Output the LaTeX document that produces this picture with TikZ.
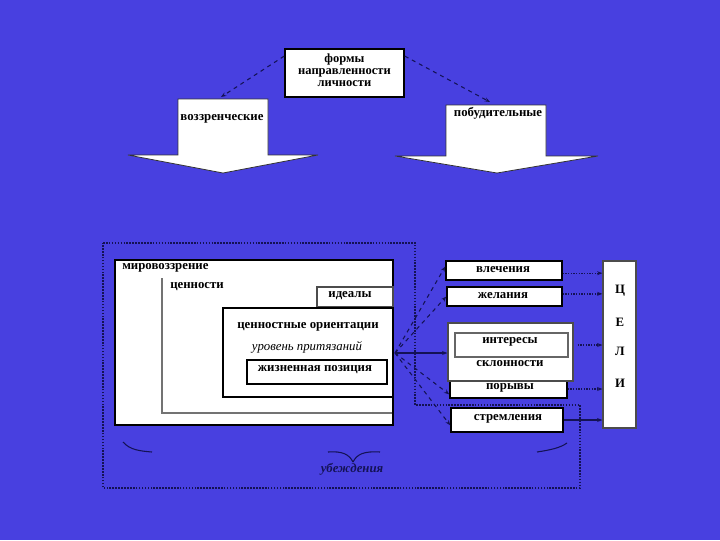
\documentclass[tikz,border=0pt]{standalone}
\usepackage{fontspec}
\setmainfont{Liberation Serif}
\usetikzlibrary{arrows.meta,fit}
\definecolor{bgblue}{RGB}{72,64,224}
\definecolor{navy}{RGB}{20,18,85}
\begin{document}
\begin{tikzpicture}[x=0.75pt,y=-0.75pt,
  font=\bfseries\fontsize{9.6}{8}\selectfont,
  box/.style={draw=black, fill=white, line width=0.9pt, inner sep=0pt},
  lbl/.style={inner sep=0pt, text=black},
  con/.style={draw=navy, dashed, line width=0.8pt, -{Stealth[length=4pt,width=3pt]}},
  dcon/.style={draw=navy, densely dotted, line width=1pt, -{Stealth[length=4pt,width=3pt]}},
  brace/.style={draw=navy, line width=0.8pt},
  bigarrow/.style={fill=white, draw=black!80, line width=0.6pt}]
\useasboundingbox (0,0) rectangle (720,540);
\fill[bgblue] (0,0) rectangle (720,540);

% top box
\node[box, line width=1.3pt, fit={(285,49)(404,97)}] (forms) {};
\node[lbl, align=center, font=\bfseries\fontsize{9.4}{9.2}\selectfont] (formstxt) at (344.5,70) {формы\\направленности\\личности};

% big arrows
\draw[bigarrow] (178,99) -- (268,99) -- (268,155) -- (318,155) -- (223,173) -- (128,155) -- (178,155) -- cycle;
\node[lbl] (contempl) at (222,119) {воззренческие};
\draw[bigarrow] (446,105) -- (546,105) -- (546,156) -- (598,156) -- (497,173) -- (395,156) -- (446,156) -- cycle;
\node[lbl] (motive) at (498,113) {побудительные};
\coordinate (ltop) at (221,97);
\coordinate (rtop) at (490,102);
\draw[con] ([yshift=-6pt]forms.north west) -- (ltop);
\draw[con] ([yshift=-6pt]forms.north east) -- (rtop);

% dotted outline
\draw[navy, densely dotted, line width=1.2pt] (103,243) -- (415,243) -- (415,405) -- (580,405) -- (580,488) -- (103,488) -- cycle;

% worldview block
\node[box, line width=1pt, fit={(115,260)(393,425)}] (world) {};
\node[lbl, anchor=west] (worldtxt) at (122,268) {мировоззрение};
\draw[black!55, line width=0.8pt] (162,278) -- (162,413) -- (392,413);
\node[lbl, anchor=west] (valtxt) at (170,287) {ценности};
\node[box, draw=black!70, line width=0.8pt, fit={(317,287)(393,307)}] (ideals) {};
\node[lbl] (idealstxt) at (350,296) {идеалы};
\node[box, line width=1.6pt, fit={(223,308)(393,397)}] (orient) {};
\node[lbl] (orienttxt) at (308,327) {ценностные ориентации};
\node[lbl, font=\itshape\fontsize{9.6}{8}\selectfont] (claims) at (307,347) {уровень притязаний};
\node[box, line width=1pt, fit={(247,360)(387,384)}] (life) {};
\node[lbl] (lifetxt) at (315,370) {жизненная позиция};

% right boxes
\node[box, line width=1.1pt, fit={(446,261)(562,280)}] (vlech) {};
\node[lbl] (vlechtxt) at (503,270) {влечения};
\node[box, line width=1.1pt, fit={(447,287)(562,306)}] (zhel) {};
\node[lbl] (zheltxt) at (503,296) {желания};
\node[box, line width=1.1pt, fit={(450,380)(567,398)}] (pory) {};
\node[lbl] (porytxt) at (510,388) {порывы};
\node[box, draw=black!70, line width=0.9pt, fit={(448,323)(573,381)}] (incl) {};
\node[box, draw=black!60, line width=0.8pt, fit={(455,333)(568,357)}] (inter) {};
\node[lbl] (intertxt) at (510,342) {интересы};
\node[lbl] (incltxt) at (510,364) {склонности};
\node[box, line width=1.1pt, fit={(451,408)(563,432)}] (strem) {};
\node[lbl] (stremtxt) at (508,419) {стремления};

% goals
\node[box, draw=black!70, line width=0.9pt, fit={(603,261)(636,428)}] (celi) {};
\node[lbl] (c1) at (620,291) {Ц};
\node[lbl] (c2) at (620,322) {Е};
\node[lbl] (c3) at (620,351) {Л};
\node[lbl] (c4) at (620,383) {И};

% arrows to goals
\draw[dcon] ([yshift=-2pt]vlech.east) -- ([yshift=-2pt]vlech.east -| celi.west);
\draw[dcon] ([yshift=2pt]zhel.east) -- ([yshift=2pt]zhel.east -| celi.west);
\draw[dcon] ([xshift=3pt]incl.east |- inter.east) -- (inter.east -| celi.west);
\draw[dcon] (pory.east) -- (pory.east -| celi.west);
\draw[draw=navy, line width=0.9pt, -{Stealth[length=4pt,width=3pt]}] (strem.east) -- (strem.east -| celi.west);

% fan from orientations
\coordinate (hub) at (395,353);
\draw[con] (hub) -- ([yshift=3pt]vlech.west);
\draw[con] (hub) -- (zhel.west);
\draw[draw=navy, line width=0.8pt, -{Stealth[length=4pt,width=3pt]}] (hub) -- (hub -| incl.west);
\draw[con] (hub) -- ([yshift=-4pt]pory.west);
\draw[con] (hub) -- ([yshift=-4pt]strem.west);

% brace
\draw[brace] (123,442) .. controls (130,450) and (140,451) .. (152,452);
\draw[brace] (328,452) .. controls (342,451) and (349,454) .. (353,462);
\draw[brace] (353,462) .. controls (357,454) and (364,451) .. (380,452);
\draw[brace] (537,452) .. controls (550,450) and (560,448) .. (567,443);
\node[lbl, text=navy, font=\bfseries\itshape\fontsize{9.6}{8}\selectfont] (belief) at (352,469) {убеждения};
\end{tikzpicture}
\end{document}
